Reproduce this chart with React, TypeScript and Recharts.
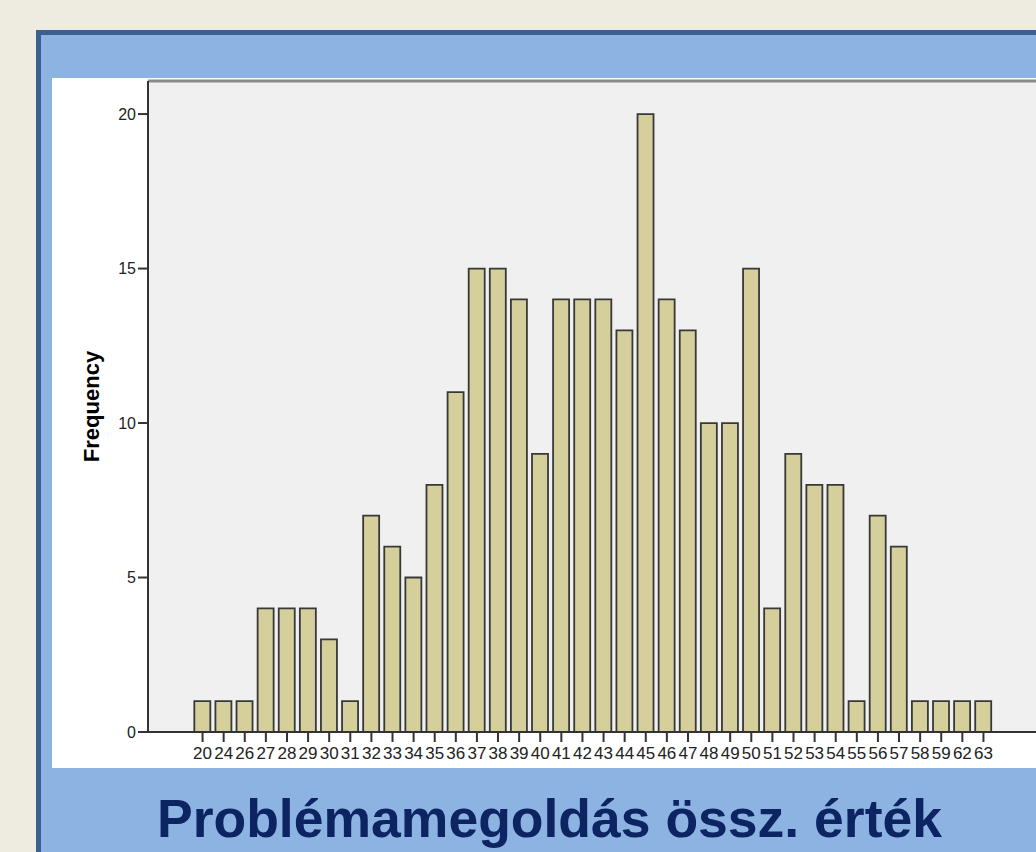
import React from 'react';
import { BarChart, Bar, XAxis, YAxis, CartesianGrid, ReferenceLine } from 'recharts';

const scores = [
  '20', '24', '26', '27', '28', '29', '30', '31', '32', '33', '34', '35', '36', '37', '38', '39', '40', '41', '42',
  '43', '44', '45', '46', '47', '48', '49', '50', '51', '52', '53', '54', '55', '56', '57', '58', '59', '62', '63',
];
const frequencies = [
  1, 1, 1, 4, 4, 4, 3, 1, 7, 6, 5, 8, 11, 15, 15, 14, 9, 14, 14,
  14, 13, 20, 14, 13, 10, 10, 15, 4, 9, 8, 8, 1, 7, 6, 1, 1, 1, 1,
];
const yTicks = [0, 5, 10, 15, 20];
const yMax = 21.07;

const data = scores.map((score, i) => ({ score, freq: frequencies[i] }));

const font = '"Liberation Sans", Arial, sans-serif';

export default function App() {
  return (
    <div
      style={{
        position: 'absolute', left: 0, top: 0, width: 1036, height: 852,
        overflow: 'hidden', background: '#EEEBE0', fontFamily: font,
      }}
    >
      {/* blue slide panel */}
      <div
        style={{
          position: 'absolute', left: 36, top: 30, width: 1100, height: 900,
          background: '#8DB3E2', borderLeft: '5px solid #3B5F8F', borderTop: '5px solid #3B5F8F',
        }}
      />
      {/* white chart area */}
      <div style={{ position: 'absolute', left: 52, top: 78, width: 1010, height: 690, background: '#fff' }}>
        <BarChart
          width={1010}
          height={690}
          data={data}
          margin={{ top: 3, right: 0, bottom: 0, left: 0 }}
          barCategoryGap="11%"
        >
          <CartesianGrid fill="#F0F0F0" horizontal={false} vertical={false} />
          <ReferenceLine y={yMax} stroke="#8a8a8a" strokeWidth={3} />
          <XAxis
            dataKey="score"
            height={36}
            interval={0}
            padding={{ left: 44, right: 68 }}
            axisLine={{ stroke: '#333', strokeWidth: 2 }}
            tickLine={{ stroke: '#333', strokeWidth: 2 }}
            tickSize={10}
            tickMargin={5}
            tick={{ fill: '#222', fontSize: 17, fontFamily: font }}
          />
          <YAxis
            width={96}
            domain={[0, yMax]}
            ticks={yTicks}
            axisLine={{ stroke: '#333', strokeWidth: 2 }}
            tickLine={{ stroke: '#333', strokeWidth: 2 }}
            tickSize={10}
            tick={{ fill: '#222', fontSize: 16, fontFamily: font }}
            label={{
              value: 'Frequency',
              angle: -90,
              position: 'insideLeft',
              offset: 39,
              style: { textAnchor: 'middle', fontWeight: 'bold', fontSize: 22, fill: '#000', fontFamily: font },
            }}
          />
          <Bar dataKey="freq" fill="#D4CF9B" stroke="#383838" strokeWidth={1.8} isAnimationActive={false} />
        </BarChart>
      </div>
      <div
        style={{
          position: 'absolute', left: 157, top: 792, lineHeight: '53px', fontSize: 53.5,
          fontWeight: 'bold', color: '#0C2461', whiteSpace: 'nowrap',
        }}
      >
        Problémamegoldás össz. érték
      </div>
    </div>
  );
}
